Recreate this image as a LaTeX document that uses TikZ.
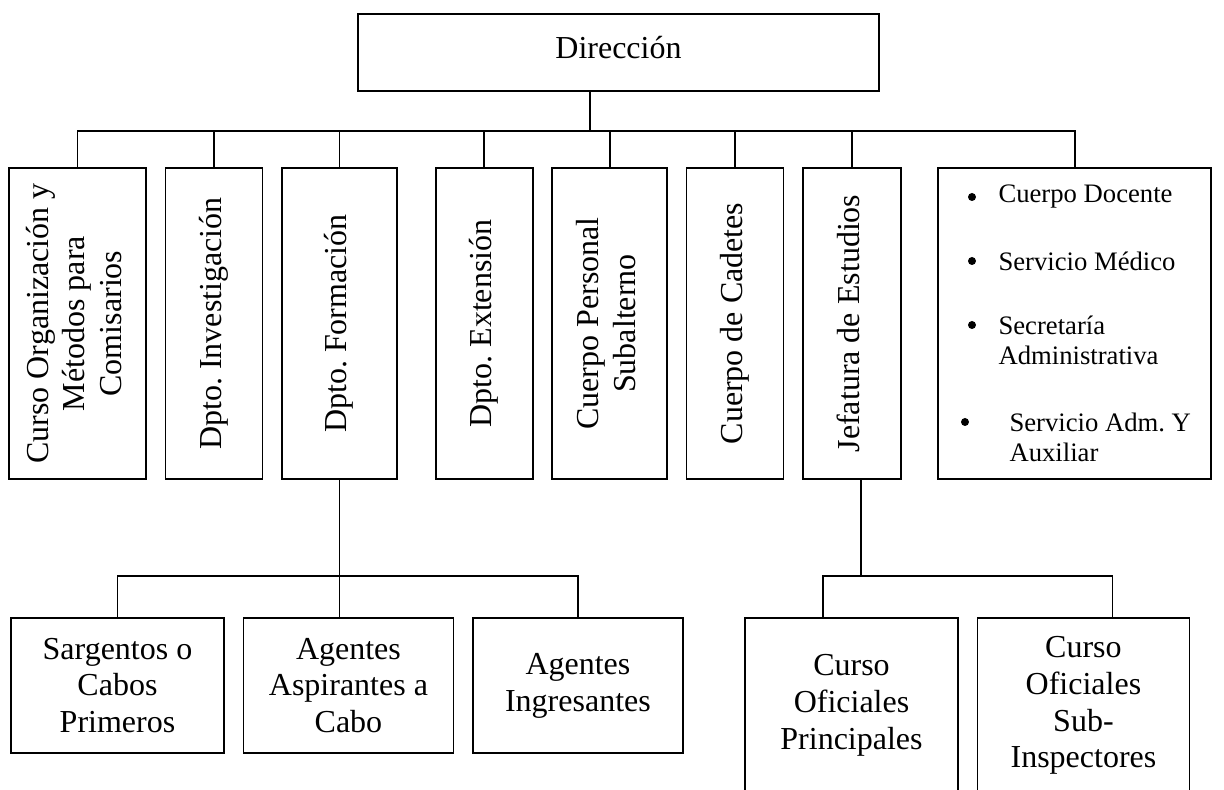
\documentclass[tikz,border=0pt]{standalone}
\usepackage{fontspec}
\setmainfont{Liberation Serif}
\usepackage{graphicx}
\usetikzlibrary{positioning}
\frenchspacing

% one pixel of the scanned chart
\newcommand{\pxu}{0.375pt}
\newcommand{\vlabel}[1]{\rotatebox{90}{\begin{tabular}{@{}c@{}}#1\end{tabular}}}

\tikzset{
  unit/.style={draw, line width=0.7pt, inner sep=0pt, outer sep=0pt, align=center,
    font=\fontsize{12}{13.8}\selectfont},
  tall/.style={unit, minimum width=#1*\pxu, minimum height=311*\pxu},
  low/.style={unit, minimum width=#1*\pxu, minimum height=135*\pxu},
  lower/.style={unit, minimum width=#1*\pxu, minimum height=175*\pxu},
  item/.style={anchor=west, inner sep=0pt, align=left, font=\fontsize{10}{11.25}\selectfont},
  bulletmark/.style={circle, fill, inner sep=0pt, minimum size=8*\pxu},
  wire/.style={line width=0.7pt}
}

\begin{document}
\begin{tikzpicture}[x=\pxu, y=-\pxu, node distance=7.3pt]
  \useasboundingbox (0,0) rectangle (1224,790);
  \clip (0,0) rectangle (1224,790);

  \node[unit, minimum width=521*\pxu, minimum height=77*\pxu] (dir) at (618.5,52.5) {\raisebox{4pt}{Dirección}};

  % first level
  \node[tall=137] (curso) at (77.5,323.5) {\vlabel{Curso Organización y\\Métodos para\\Comisarios}};
  \node[tall=97, right=of curso] (invest) {\vlabel{Dpto. Investigación}};
  \node[tall=115, right=of invest] (formac) {\vlabel{Dpto. Formación}};
  \node[tall=97, right=14.5pt of formac] (extens) {\vlabel{Dpto. Extensión}};
  \node[tall=115, right=of extens] (subalt) {\vlabel{Cuerpo Personal\\Subalterno}};
  \node[tall=97, right=of subalt] (cadet) {\vlabel{Cuerpo de Cadetes}};
  \node[tall=98, right=of cadet] (jefat) {\vlabel{Jefatura de Estudios}};
  \node[tall=273, right=14pt of jefat] (lista) {};

  \node[bulletmark] (bu1) at (972,197) {};
  \node[item] (docente) at (998,197) {Cuerpo Docente};
  \node[bulletmark] (bu2) at (972,261) {};
  \node[item] (medico) at (998,261) {Servicio Médico};
  \node[bulletmark] (bu3) at (972,325) {};
  \node[item] (secret) at (998,340) {Secretaría\\Administrativa};
  \node[bulletmark] (bu4) at (965,422) {};
  \node[item] (auxil) at (1009,437) {Servicio Adm. Y\\Auxiliar};

  % second level
  \node[low=213] (sarg) at (117.5,685.5) {Sargentos o\\Cabos\\Primeros};
  \node[low=210, right=of sarg] (aspir) {Agentes\\Aspirantes a\\Cabo};
  \node[low=210, right=of aspir] (ingres) {Agentes\\Ingresantes};

  \node[lower=213] (princ) at (851.5,705.5) {Curso\\Oficiales\\Principales};
  \node[lower=212, right=of princ] (subins) {Curso\\Oficiales\\Sub-\\Inspectores};

  % connectors
  \coordinate (tbus) at (590,131);
  \draw[wire] (tbus |- dir.south) -- (tbus);
  \foreach \n in {curso,invest,formac,extens,subalt,cadet,jefat,lista}
    \draw[wire] (tbus) -| (\n.north);

  \coordinate (lbus) at (341,576);
  \draw[wire] (formac.south) -- (formac.south |- aspir.north);
  \draw[wire] (sarg.north) |- (formac.south |- lbus) -| (ingres.north);

  \coordinate (rbus) at (861,576);
  \draw[wire] (rbus |- jefat.south) -- (rbus);
  \draw[wire] ([xshift=-28.5*\pxu]princ.north) |- (rbus) -| ([xshift=29*\pxu]subins.north);
\end{tikzpicture}
\end{document}
